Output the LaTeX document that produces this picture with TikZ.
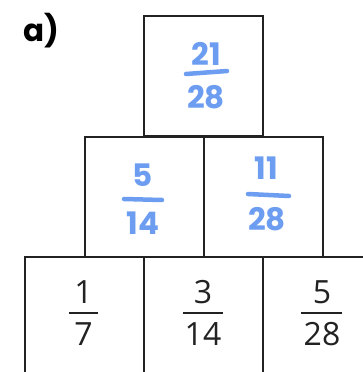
\documentclass[tikz,border=0pt]{standalone}
\usepackage{fontspec}
\setmainfont{Open Sans}
\newfontfamily\labelfont{Poppins}
\newfontfamily\handfont{Poppins}
\definecolor{inkblue}{HTML}{6C9DF0}
\definecolor{gridline}{HTML}{222222}
\tikzset{
  cell/.style={draw=gridline, line width=2pt, minimum width=119pt, minimum height=120pt, inner sep=0pt, anchor=north west},
  printed/.style={font=\fontsize{32}{32}\selectfont, text=gridline, inner sep=0pt},
  printbar/.style={draw=gridline, line width=2pt},
  hand/.style={font=\handfont\bfseries\fontsize{31}{31}\selectfont, text=inkblue, inner sep=0pt},
  handbar/.style={draw=inkblue, line width=4.5pt, line cap=round},
}
\begin{document}
\begin{tikzpicture}[x=1pt, y=-1pt]
\useasboundingbox (0,0) rectangle (363,372);
\clip (0,0) rectangle (363,372);
\fill[white] (0,0) rectangle (363,372);

% pyramid cells
\node[cell] (top) at (143,15) {};
\node[cell] (midL) at (84,136) {};
\node[cell] (midR) at (203,136) {};
\node[cell] (botL) at (24,256) {};
\node[cell] (botM) at (143,256) {};
\node[cell] (botR) at (262,256) {};

% label
\node[font=\labelfont\bfseries\fontsize{31}{31}\selectfont, anchor=west, inner sep=0pt] (lbl) at (23,31) {a)};

% printed fractions in the bottom row
\node[printed] (n1) at (83.5,292) {1};
\node[printed] (d1) at (83.5,334) {7};
\draw[printbar] (69,313) -- (98,313);
\node[printed] (n2) at (203,292) {3};
\node[printed] (d2) at (203,334) {14};
\draw[printbar] (183,313) -- (223,313);
\node[printed] (n3) at (322,292) {5};
\node[printed] (d3) at (322,334) {28};
\draw[printbar] (301,313) -- (342,313);

% handwritten answers
\node[hand] (tn) at (206,54) {21};
\node[hand] (td) at (206,97) {28};
\draw[handbar] (186,74) -- (227,71);
\node[hand] (ln) at (143,175) {5};
\node[hand] (ld) at (143,223) {14};
\draw[handbar] (124,199) -- (162,200);
\node[hand] (rn) at (266,168) {11};
\draw[handbar] (248,194) -- (289,196);
\node[hand] (rd) at (267,219) {28};
\end{tikzpicture}
\end{document}
